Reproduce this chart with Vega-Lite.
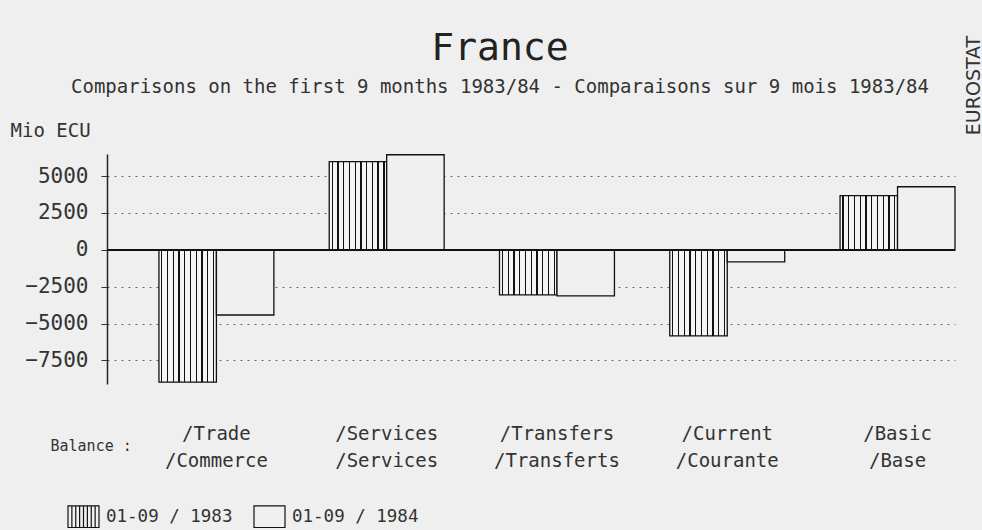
{
  "$schema": "https://vega.github.io/schema/vega-lite/v6.json",
  "autosize": "none",
  "width": 848,
  "height": 230,
  "padding": {"left": 107, "top": 154, "right": 27, "bottom": 146},
  "background": "#efefef",
  "title": {
    "text": "France",
    "subtitle": "Comparisons on the first 9 months 1983/84 - Comparaisons sur 9 mois 1983/84",
    "anchor": "middle",
    "frame": "group",
    "dx": -31,
    "offset": -62,
    "font": "DejaVu Sans Mono",
    "fontSize": 38,
    "fontWeight": "normal",
    "color": "#222",
    "subtitleFont": "DejaVu Sans Mono",
    "subtitleFontSize": 19,
    "subtitleColor": "#333",
    "subtitlePadding": 10
  },
  "config": {
    "view": {"stroke": null},
    "font": "DejaVu Sans Mono",
    "axis": {"labelFont": "DejaVu Sans Mono", "titleFont": "DejaVu Sans Mono", "labelColor": "#333", "titleColor": "#333", "titleFontWeight": "normal"},
    "legend": {"labelFont": "DejaVu Sans Mono"}
  },
  "data": {
    "values": [
      {"balance": "Trade|Commerce", "period": "01-09 / 1983", "value": -8970},
      {"balance": "Trade|Commerce", "period": "01-09 / 1984", "value": -4420},
      {"balance": "Services|Services", "period": "01-09 / 1983", "value": 5980},
      {"balance": "Services|Services", "period": "01-09 / 1984", "value": 6450},
      {"balance": "Transfers|Transferts", "period": "01-09 / 1983", "value": -3060},
      {"balance": "Transfers|Transferts", "period": "01-09 / 1984", "value": -3120},
      {"balance": "Current|Courante", "period": "01-09 / 1983", "value": -5840},
      {"balance": "Current|Courante", "period": "01-09 / 1984", "value": -815},
      {"balance": "Basic|Base", "period": "01-09 / 1983", "value": 3670},
      {"balance": "Basic|Base", "period": "01-09 / 1984", "value": 4280}
    ]
  },
  "encoding": {
    "x": {
      "field": "balance", "type": "nominal",
      "sort": ["Trade|Commerce", "Services|Services", "Transfers|Transferts", "Current|Courante", "Basic|Base"],
      "scale": {"paddingInner": 0.325, "paddingOuter": 0.1525, "align": 1},
      "axis": {
        "orient": "bottom",
        "domain": false, "ticks": false, "grid": false,
        "labelAngle": 0,
        "labelExpr": "['/' + split(datum.label, '|')[0], '/' + split(datum.label, '|')[1]]",
        "labelFontSize": 19,
        "labelLineHeight": 27,
        "labelBaseline": "top",
        "labelPadding": 40,
        "title": "Balance :",
        "titleFontSize": 15,
        "titleAngle": 0,
        "titleAlign": "left",
        "titleBaseline": "middle",
        "titleX": -57,
        "titleY": 61
      }
    },
    "xOffset": {
      "field": "period", "type": "nominal",
      "scale": {"paddingInner": 0, "paddingOuter": 0}
    }
  },
  "layer": [
    {
      "mark": {"type": "bar", "stroke": "#111", "strokeWidth": 1.3, "opacity": 1},
      "encoding": {
        "y": {
          "field": "value", "type": "quantitative",
          "scale": {"domain": [-9100, 6500], "nice": false, "zero": false},
          "axis": {
            "values": [-7500, -5000, -2500, 0, 2500, 5000],
            "format": "d",
            "labelFontSize": 21,
            "labelPadding": 13,
            "tickSize": 6,
            "tickColor": "#333",
            "domainColor": "#222",
            "domainWidth": 1.5,
            "grid": true,
            "gridColor": "#666",
            "gridDash": [2, 5],
            "gridWidth": 1,
            "title": "Mio ECU",
            "titleFontSize": 19,
            "titleAngle": 0,
            "titleAlign": "left",
            "titleBaseline": "middle",
            "titleX": -97,
            "titleY": -24
          }
        },
        "fill": {
          "condition": {
            "test": "datum.period === '01-09 / 1983'",
            "value": {"gradient": "linear", "x1": 0, "y1": 0, "x2": 1, "y2": 0, "stops": [
                {"offset": 0, "color": "#f4f4f4"},
                {"offset": 0.04, "color": "#f4f4f4"}, {"offset": 0.04, "color": "#111"}, {"offset": 0.062, "color": "#111"}, {"offset": 0.062, "color": "#f4f4f4"},
                {"offset": 0.14, "color": "#f4f4f4"}, {"offset": 0.14, "color": "#111"}, {"offset": 0.162, "color": "#111"}, {"offset": 0.162, "color": "#f4f4f4"},
                {"offset": 0.24, "color": "#f4f4f4"}, {"offset": 0.24, "color": "#111"}, {"offset": 0.262, "color": "#111"}, {"offset": 0.262, "color": "#f4f4f4"},
                {"offset": 0.34, "color": "#f4f4f4"}, {"offset": 0.34, "color": "#111"}, {"offset": 0.362, "color": "#111"}, {"offset": 0.362, "color": "#f4f4f4"},
                {"offset": 0.44, "color": "#f4f4f4"}, {"offset": 0.44, "color": "#111"}, {"offset": 0.462, "color": "#111"}, {"offset": 0.462, "color": "#f4f4f4"},
                {"offset": 0.54, "color": "#f4f4f4"}, {"offset": 0.54, "color": "#111"}, {"offset": 0.562, "color": "#111"}, {"offset": 0.562, "color": "#f4f4f4"},
                {"offset": 0.64, "color": "#f4f4f4"}, {"offset": 0.64, "color": "#111"}, {"offset": 0.662, "color": "#111"}, {"offset": 0.662, "color": "#f4f4f4"},
                {"offset": 0.74, "color": "#f4f4f4"}, {"offset": 0.74, "color": "#111"}, {"offset": 0.762, "color": "#111"}, {"offset": 0.762, "color": "#f4f4f4"},
                {"offset": 0.84, "color": "#f4f4f4"}, {"offset": 0.84, "color": "#111"}, {"offset": 0.862, "color": "#111"}, {"offset": 0.862, "color": "#f4f4f4"},
                {"offset": 0.94, "color": "#f4f4f4"}, {"offset": 0.94, "color": "#111"}, {"offset": 0.962, "color": "#111"}, {"offset": 0.962, "color": "#f4f4f4"},
                {"offset": 1, "color": "#f4f4f4"}
            ]}
          },
          "value": "#f0f0f0"
        }
      }
    },
    {
      "mark": {"type": "point", "filled": true, "fill": "#f0f0f0", "stroke": "#111", "opacity": 0},
      "encoding": {
        "y": {
          "field": "value", "type": "quantitative",
          "scale": {"domain": [-9100, 6500], "nice": false, "zero": false},
          "axis": null
        },
        "shape": {
          "field": "period", "type": "nominal",
          "scale": {
            "domain": ["01-09 / 1983", "01-09 / 1984"],
            "range": [
              "M-1,-0.7H1V0.7H-1Z M-0.75,-0.7V0.7 M-0.5,-0.7V0.7 M-0.25,-0.7V0.7 M0,-0.7V0.7 M0.25,-0.7V0.7 M0.5,-0.7V0.7 M0.75,-0.7V0.7",
              "M-1,-0.7H1V0.7H-1Z"
            ]
          },
          "legend": {
            "title": null,
            "orient": "none",
            "legendX": -40,
            "legendY": 346,
            "direction": "horizontal",
            "symbolSize": 961,
            "symbolStrokeColor": "#111",
            "symbolFillColor": "#f0f0f0",
            "symbolStrokeWidth": 1.2,
            "symbolOpacity": 1,
            "labelFontSize": 17.5,
            "labelColor": "#333",
            "labelOffset": 6,
            "columnPadding": 18,
            "encoding": {
              "symbols": {
                "opacity": {"value": 1},
                "fillOpacity": {"value": 1},
                "strokeOpacity": {"value": 1},
                "stroke": {"value": "#111"},
                "fill": {"value": "#f0f0f0"},
                "strokeWidth": {"value": 1.2}
              }
            }
          }
        }
      }
    },
    {
      "mark": {"type": "rule", "color": "#111", "strokeWidth": 1.5},
      "encoding": {
        "x": null,
        "xOffset": null,
        "y": {
          "datum": 0, "type": "quantitative",
          "scale": {"domain": [-9100, 6500], "nice": false, "zero": false},
          "axis": {
            "orient": "right",
            "labels": false, "ticks": false, "domain": false, "grid": false,
            "title": "EUROSTAT",
            "titleFont": "DejaVu Sans",
            "titleFontSize": 19,
            "titleColor": "#333",
            "titleAngle": 270,
            "titleAlign": "center",
            "titleBaseline": "middle",
            "titleX": 18,
            "titleY": -69
          }
        }
      }
    }
  ],
  "resolve": {"scale": {"y": "independent"}}
}
